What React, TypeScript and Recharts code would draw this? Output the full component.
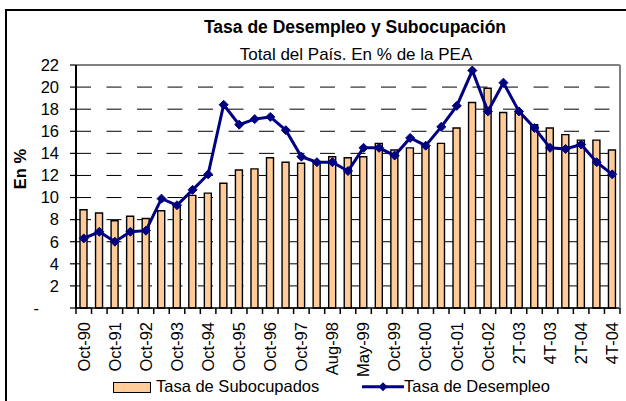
import { ComposedChart, Bar, Line, XAxis, YAxis, CartesianGrid, ReferenceLine } from "recharts"

// Encuesta Permanente de Hogares, total del país
const periods = [
  "Oct-90", "May-91", "Oct-91", "May-92", "Oct-92", "May-93", "Oct-93", "May-94", "Oct-94",
  "May-95", "Oct-95", "May-96", "Oct-96", "May-97", "Oct-97", "May-98", "Aug-98", "Oct-98",
  "May-99", "Aug-99", "Oct-99", "May-00", "Oct-00", "May-01", "Oct-01", "May-02", "Oct-02",
  "1T-03", "2T-03", "3T-03", "4T-03", "1T-04", "2T-04", "3T-04", "4T-04",
]

const subocupados = [
  8.9, 8.6, 7.9, 8.3, 8.1, 8.8, 9.3, 10.2, 10.4,
  11.3, 12.5, 12.6, 13.6, 13.2, 13.1, 13.2, 13.7, 13.6,
  13.7, 14.9, 14.3, 14.5, 14.6, 14.9, 16.3, 18.6, 19.9,
  17.7, 17.8, 16.6, 16.3, 15.7, 15.2, 15.2, 14.3,
]

const desempleo = [
  6.3, 6.9, 6.0, 6.9, 7.0, 9.9, 9.3, 10.7, 12.1,
  18.4, 16.6, 17.1, 17.3, 16.1, 13.7, 13.2, 13.2, 12.4,
  14.5, 14.5, 13.8, 15.4, 14.7, 16.4, 18.3, 21.5, 17.8,
  20.4, 17.8, 16.3, 14.5, 14.4, 14.8, 13.2, 12.1,
]

const yTicks = [0, 2, 4, 6, 8, 10, 12, 14, 16, 18, 20, 22]

const data = periods.map((p, i) => ({
  periodo: p,
  subocupados: subocupados[i],
  desempleo: desempleo[i],
}))

const FONT = "Arial, 'Liberation Sans', Helvetica, sans-serif"
const BAR_FILL = "#FFCC99"
const LINE_COLOR = "#000080"

function XTick(props: any) {
  const { x, y, payload, index } = props
  const half = payload?.offset ?? 7.77
  const i = payload?.index ?? index
  const last = i === periods.length - 1
  return (
    <g>
      <line x1={x - half} x2={x - half} y1={y} y2={y + 6} stroke="#000" strokeWidth={1.5} />
      {last && <line x1={x + half} x2={x + half} y1={y} y2={y + 6} stroke="#000" strokeWidth={1.5} />}
      {i % 2 === 0 && (
        <text
          x={x}
          y={y + 14}
          dy="0.35em"
          transform={`rotate(-90 ${x} ${y + 14})`}
          textAnchor="end"
          fontSize={16.5}
          fontFamily={FONT}
          fill="#000"
        >
          {payload.value}
        </text>
      )}
    </g>
  )
}

function YTick(props: any) {
  const { x, y, payload } = props
  const v = payload.value
  return (
    <text
      x={v === 0 ? x - 20 : x}
      y={y}
      dy="0.35em"
      textAnchor="end"
      fontSize={16.5}
      fontFamily={FONT}
      fill="#000"
    >
      {v === 0 ? "-" : v}
    </text>
  )
}

function Diamond(props: any) {
  const { cx, cy, index } = props
  const r = 4.5
  return (
    <polygon
      key={`d-${index}`}
      points={`${cx},${cy - r} ${cx + r},${cy} ${cx},${cy + r} ${cx - r},${cy}`}
      fill={LINE_COLOR}
      stroke={LINE_COLOR}
    />
  )
}

const textStyle = {
  position: "absolute" as const,
  fontFamily: FONT,
  color: "#000",
  lineHeight: 1,
  whiteSpace: "nowrap" as const,
}

export default function App() {
  return (
    <div
      style={{
        position: "absolute",
        left: 0,
        top: 0,
        width: 626,
        height: 401,
        overflow: "hidden",
        background: "#fff",
      }}
    >
      <div
        style={{
          position: "absolute",
          left: 5,
          top: 9,
          width: 800,
          height: 600,
          borderTop: "2px solid #000",
          borderLeft: "2px solid #000",
        }}
      />
      <div style={{ position: "absolute", left: 0, top: 0 }}>
        <ComposedChart width={626} height={401} data={data} margin={{ top: 65, right: 0, left: 0, bottom: 0 }}>
          <CartesianGrid vertical={false} stroke="#000" strokeDasharray="15 15.5" />
          <XAxis
            dataKey="periodo"
            height={93}
            interval={0}
            tickSize={0}
            tickMargin={0}
            tickLine={false}
            axisLine={{ stroke: "#000", strokeWidth: 1.5 }}
            tick={<XTick />}
          />
          <YAxis
            width={76}
            domain={[0, 22]}
            ticks={yTicks}
            interval={0}
            tickSize={6}
            tickMargin={11}
            tickLine={{ stroke: "#000", strokeWidth: 1.2 }}
            axisLine={{ stroke: "#000", strokeWidth: 2 }}
            tick={<YTick />}
            label={{
              content: () => (
                <text
                  x={20}
                  y={169}
                  transform="rotate(-90 20 169)"
                  dy="0.35em"
                  textAnchor="middle"
                  fontSize={16.5}
                  fontWeight="bold"
                  fontFamily={FONT}
                  fill="#000"
                >
                  En %
                </text>
              ),
            }}
          />
          <YAxis
            yAxisId="right"
            orientation="right"
            width={6}
            domain={[0, 22]}
            tick={false}
            tickLine={false}
            axisLine={{ stroke: "#808080", strokeWidth: 2 }}
          />
          <ReferenceLine y={22} stroke="#808080" strokeWidth={2} />
          <Bar
            dataKey="subocupados"
            fill={BAR_FILL}
            stroke="#000"
            strokeWidth={1.4}
            barSize={7}
            isAnimationActive={false}
          />
          <Line
            type="linear"
            dataKey="desempleo"
            stroke={LINE_COLOR}
            strokeWidth={3}
            dot={Diamond}
            activeDot={false}
            isAnimationActive={false}
          />
        </ComposedChart>
      </div>

      <div style={{ ...textStyle, left: 0, width: 710, top: 18.5, textAlign: "center", fontSize: 17.5, fontWeight: "bold" }}>
        Tasa de Desempleo y Subocupación
      </div>
      <div style={{ ...textStyle, left: 0, width: 712, top: 45.6, textAlign: "center", fontSize: 17 }}>
        Total del País. En % de la PEA
      </div>

      <div
        style={{
          position: "absolute",
          left: 113,
          top: 382,
          width: 38,
          height: 11,
          boxSizing: "border-box",
          background: BAR_FILL,
          border: "1.5px solid #000",
        }}
      />
      <div style={{ ...textStyle, left: 156, top: 378, fontSize: 16.5 }}>Tasa de Subocupados</div>
      <svg style={{ position: "absolute", left: 362, top: 381 }} width={42} height={12}>
        <line x1={0} x2={42} y1={5.7} y2={5.7} stroke={LINE_COLOR} strokeWidth={3} />
        <polygon points="21,1.2 25.5,5.7 21,10.2 16.5,5.7" fill={LINE_COLOR} />
      </svg>
      <div style={{ ...textStyle, left: 404, top: 378, fontSize: 16.5 }}>Tasa de Desempleo</div>
    </div>
  )
}
